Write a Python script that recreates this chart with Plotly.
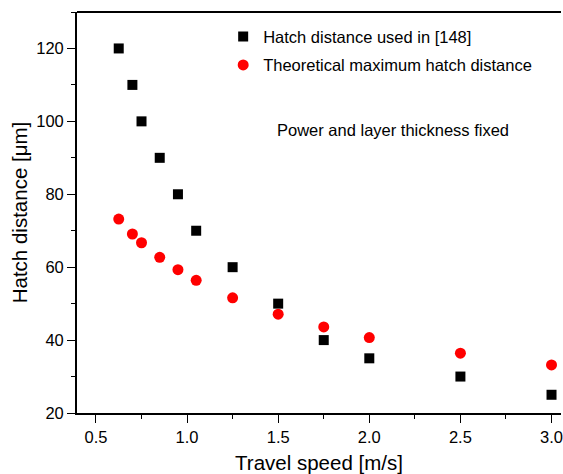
import plotly.graph_objects as go

speed = [0.625, 0.7, 0.75, 0.85, 0.95, 1.05, 1.25, 1.5, 1.75, 2.0, 2.5, 3.0]
hatch_used = [120, 110, 100, 90, 80, 70, 60, 50, 40, 35, 30, 25]
hatch_theory = [73.2, 69.1, 66.7, 62.7, 59.3, 56.4, 51.6, 47.1, 43.6, 40.7, 36.4, 33.2]

fig = go.Figure()
fig.add_trace(go.Scatter(x=speed, y=hatch_used, mode="markers",
                         name="Hatch distance used in [148]", legendgroup="a",
                         marker=dict(symbol="square", size=10, color="black")))
fig.add_trace(go.Scatter(x=speed, y=hatch_theory, mode="markers",
                         name="Theoretical maximum hatch distance", legendgroup="b",
                         marker=dict(symbol="circle", size=11, color="#ff0000")))

font = "Liberation Sans, Arial, sans-serif"
fig.update_layout(
    width=563, height=474,
    margin=dict(l=77, r=0, t=12, b=61),
    plot_bgcolor="white", paper_bgcolor="white",
    font=dict(family=font, size=16.5, color="black"),
    showlegend=True,
    legend=dict(x=0.302, y=0.982, xanchor="left", yanchor="top",
                bgcolor="rgba(0,0,0,0)", font=dict(size=16.5), tracegroupgap=4),
    xaxis=dict(range=[0.396, 3.052], showgrid=False, zeroline=False,
               showline=True, linecolor="black", linewidth=1.8, mirror=False,
               ticks="outside", ticklen=8, tickwidth=1.3, tickcolor="black",
               tickvals=[0.5, 1.0, 1.5, 2.0, 2.5, 3.0],
               ticktext=["0.5", "1.0", "1.5", "2.0", "2.5", "3.0"],
               ticklabeloverflow="allow",
               minor=dict(ticks="outside", ticklen=4, tickwidth=1.3, tickcolor="black", dtick=0.25, tick0=0.25),
               tickfont=dict(size=16.5),
               title=dict(text="Travel speed [m/s]", font=dict(size=20.5), standoff=12)),
    yaxis=dict(range=[20, 130], showgrid=False, zeroline=False,
               showline=True, linecolor="black", linewidth=1.8,
               ticks="outside", ticklen=8, tickwidth=1.3, tickcolor="black",
               tickvals=[20, 40, 60, 80, 100, 120],
               minor=dict(ticks="outside", ticklen=4, tickwidth=1.3, tickcolor="black", dtick=10, tick0=10),
               tickfont=dict(size=16.5),
               title=dict(text="Hatch distance [μm]", font=dict(size=20.5), standoff=3)),
    shapes=[dict(type="line", xref="paper", yref="paper", x0=0, x1=1, y0=1, y1=1,
                 line=dict(color="black", width=1.8))],
    annotations=[dict(text="Power and layer thickness fixed", xref="paper", yref="paper",
                      x=0.41, y=0.706, xanchor="left", yanchor="middle", showarrow=False,
                      font=dict(size=16.5))],
)

fig.write_html("out.html")
